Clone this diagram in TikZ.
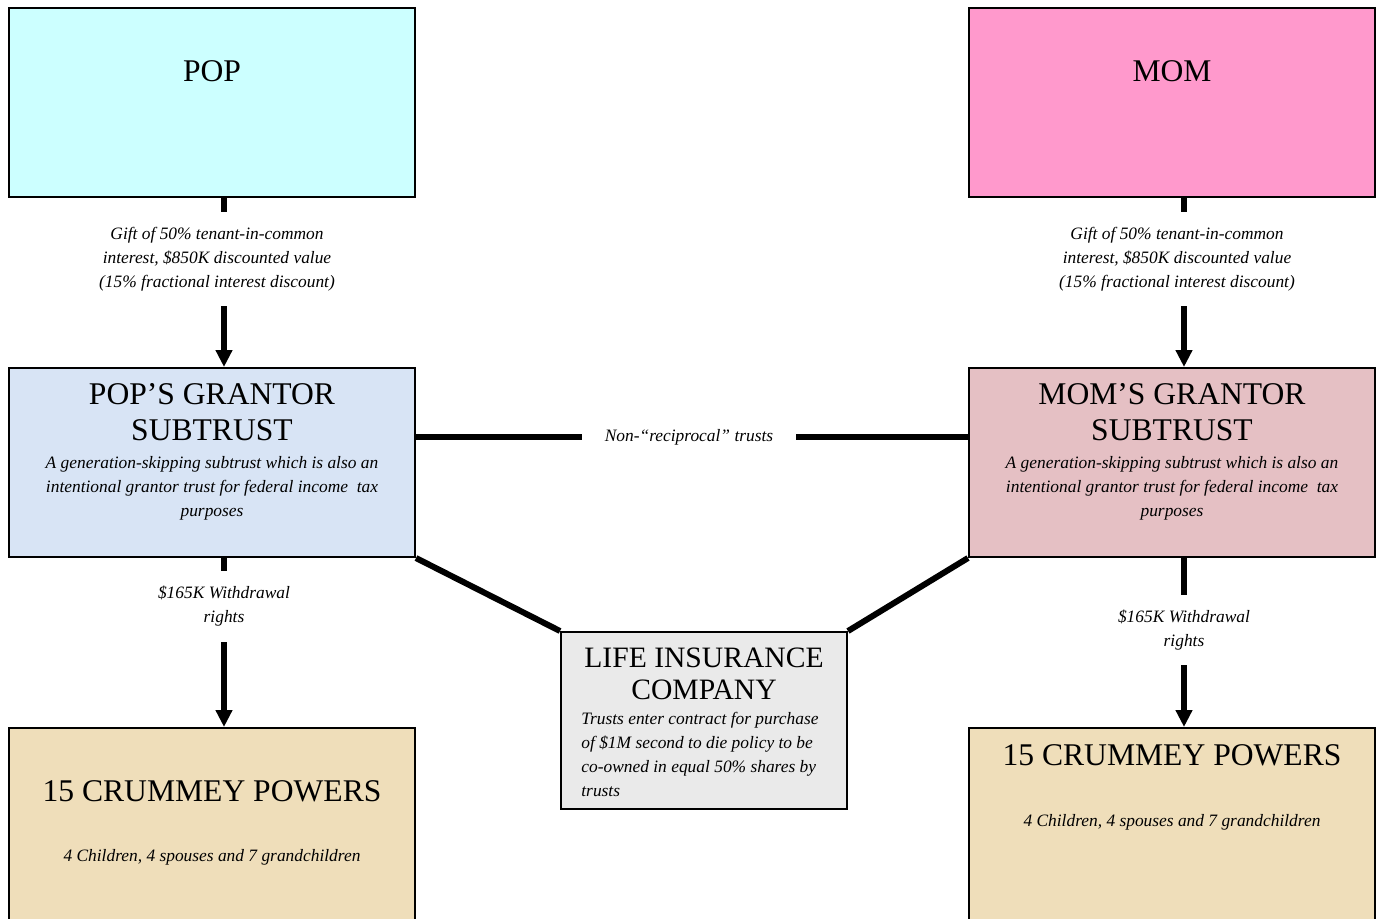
\documentclass[tikz,border=0pt]{standalone}
\usepackage{fontspec}
\setmainfont{Liberation Serif}
\usetikzlibrary{
	positioning				% relative placement
	, arrows.meta			% Triangle tips
}

\definecolor{popcyan}{RGB}{204,255,255}
\definecolor{mompink}{RGB}{255,153,204}
\definecolor{popblue}{RGB}{216,228,245}
\definecolor{momrose}{RGB}{229,192,196}
\definecolor{insgray}{RGB}{234,234,234}
\definecolor{crumtan}{RGB}{239,222,186}

\begin{document}
\begin{tikzpicture}[x=0.5pt, y=-0.5pt
		, block/.style={draw, line width=1pt, minimum width=203pt, minimum height=94.5pt, inner sep=0pt}
		, headtext/.style={inner sep=0pt, align=center, font=\fontsize{15.8}{18}\selectfont}
		, bodytext/.style={inner sep=0pt, align=center, font=\fontsize{8.7}{12}\selectfont\itshape}
		, link/.style={line width=3pt, >={Triangle[width=8pt,length=8.5pt]}}
		, linklabel/.style={fill=white, inner xsep=1pt, inner ysep=7.5pt, align=center, font=\fontsize{8.7}{12}\selectfont\itshape}]

		%%% Page frame
		\useasboundingbox (0,0) rectangle (1382,918);
		\clip (0,0) rectangle (1382,918);

		%%% Parents
		\node[block, fill=popcyan] (pop) at (212,102.5) {};
		\node[headtext] (poptitle) at (212,71) {POP};
		\node[block, fill=mompink] (mom) at (1172,102.5) {};
		\node[headtext] (momtitle) at (1172,71) {MOM};

		%%% Grantor subtrusts
		\node[block, fill=popblue] (popsub) at (212,462.5) {};
		\node[headtext] (popsubtitle) at (212,412) {POP’S GRANTOR\\SUBTRUST};
		\node[bodytext] (popsubbody) at (212,488) {A generation-skipping subtrust which is also an\\intentional grantor trust for federal income\ \ tax\\purposes};

		\node[block, fill=momrose] (momsub) at (1172,462.5) {};
		\node[headtext] (momsubtitle) at (1172,412) {MOM’S GRANTOR\\SUBTRUST};
		\node[bodytext] (momsubbody) at (1172,488) {A generation-skipping subtrust which is also an\\intentional grantor trust for federal income\ \ tax\\purposes};

		%%% Life insurance company
		\node[block, fill=insgray, minimum width=143pt, minimum height=88.5pt] (insurer) at (704,720.5) {};
		\node[headtext, font=\fontsize{14.8}{16}\selectfont] (insurertitle) at (704,674) {LIFE INSURANCE\\COMPANY};
		\node[bodytext, align=left, anchor=west] (insurerbody) at (581,754) {Trusts enter contract for purchase\\of \$1M second to die policy to be\\co-owned in equal 50\% shares by\\trusts};

		%%% Crummey powers (run off the page)
		\node[block, fill=crumtan, minimum height=111pt] (popcrummey) at (212,839) {};
		\node[headtext] (popcrummeytitle) at (212,791) {15 CRUMMEY POWERS};
		\node[bodytext] (popcrummeybody) at (212,857) {4 Children, 4 spouses and 7 grandchildren};

		\node[block, fill=crumtan, minimum height=111pt] (momcrummey) at (1172,839) {};
		\node[headtext] (momcrummeytitle) at (1172,755) {15 CRUMMEY POWERS};
		\node[bodytext] (momcrummeybody) at (1172,822) {4 Children, 4 spouses and 7 grandchildren};

		%%% Gifts
		\draw[link, ->] ([xshift=6pt]pop.south) -- ([xshift=6pt]popsub.north)
			node[linklabel, pos=0.36, xshift=-3.5pt] (popgift) {Gift of 50\% tenant-in-common\\interest, \$850K discounted value\\(15\% fractional interest discount)};
		\draw[link, ->] ([xshift=6pt]mom.south) -- ([xshift=6pt]momsub.north)
			node[linklabel, pos=0.36, xshift=-3.5pt] (momgift) {Gift of 50\% tenant-in-common\\interest, \$850K discounted value\\(15\% fractional interest discount)};

		%%% Withdrawal rights
		\draw[link, ->] ([xshift=6pt]popsub.south) -- ([xshift=6pt]popcrummey.north)
			node[linklabel, pos=0.287] (popwithdraw) {\$165K Withdrawal\\rights};
		\draw[link, ->] ([xshift=6pt]momsub.south) -- ([xshift=6pt]momcrummey.north)
			node[linklabel, pos=0.427] (momwithdraw) {\$165K Withdrawal\\rights};

		%%% Trusts to each other and to the insurer
		\draw[link] ([yshift=12.75pt]popsub.east) -- ([yshift=12.75pt]momsub.west)
			node[linklabel, midway, inner xsep=11.5pt, xshift=-1.5pt] (nonreciprocal) {Non-“reciprocal” trusts};
		\draw[link] (popsub.south east) -- (insurer.north west);
		\draw[link] (momsub.south west) -- (insurer.north east);
	\end{tikzpicture}
\end{document}
